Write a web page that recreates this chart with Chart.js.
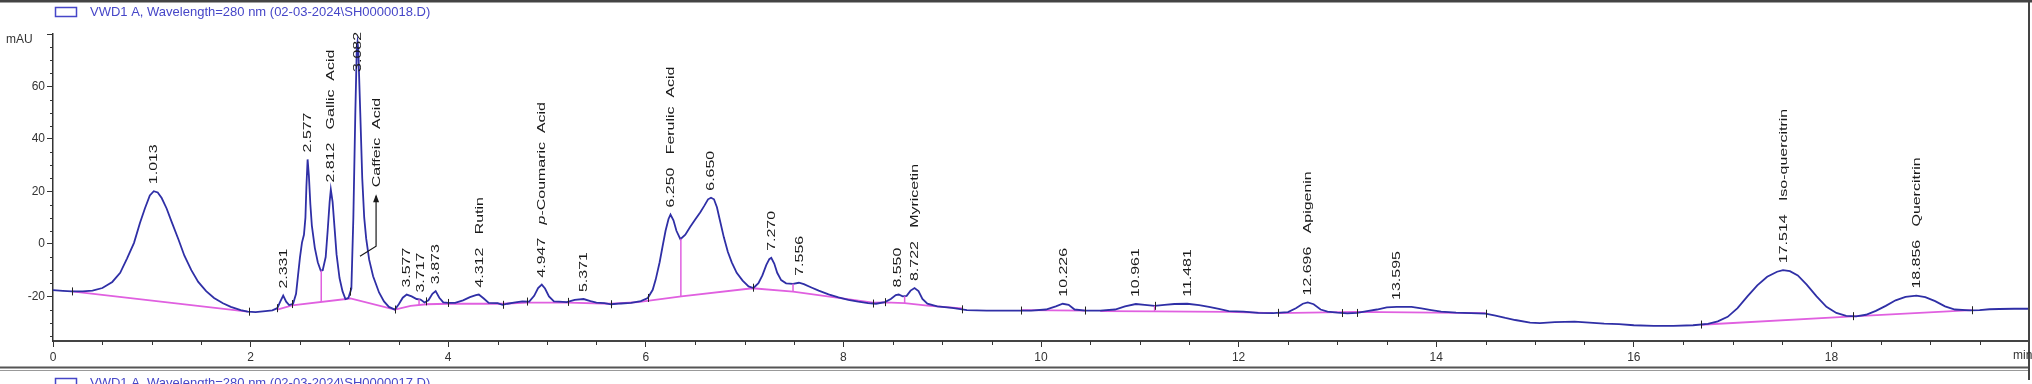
<!DOCTYPE html>
<html>
<head>
<meta charset="utf-8">
<script src="https://cdn.jsdelivr.net/npm/chart.js@4.4.1/dist/chart.umd.min.js"></script>
<style>
body { margin: 0; background: #fff; }
canvas { display: block; }
</style>
</head>
<body>
<canvas id="chromatogram" width="2032" height="384"></canvas>
<script>
// signal trace: retention time (min) / absorbance (mAU)
var times = [0.00, 0.10, 0.19, 0.30, 0.40, 0.50, 0.60, 0.68, 0.75, 0.82, 0.88, 0.93, 0.98, 1.02, 1.06, 1.10, 1.15, 1.20, 1.27, 1.33,
    1.40, 1.47, 1.55, 1.63, 1.72, 1.80, 1.90, 1.97, 2.05, 2.15, 2.22, 2.27, 2.30, 2.33, 2.36, 2.39, 2.43, 2.46, 2.48, 2.50,
    2.52, 2.54, 2.555, 2.565, 2.577, 2.59, 2.605, 2.62, 2.65, 2.68, 2.71, 2.73, 2.76, 2.78, 2.80, 2.812, 2.83, 2.85, 2.87, 2.90,
    2.93, 2.96, 2.99, 3.02, 3.04, 3.06, 3.075, 3.082, 3.09, 3.11, 3.13, 3.15, 3.17, 3.20, 3.24, 3.30, 3.35, 3.40, 3.46, 3.50,
    3.54, 3.58, 3.63, 3.68, 3.72, 3.76, 3.80, 3.84, 3.873, 3.91, 3.95, 4.00, 4.07, 4.15, 4.22, 4.28, 4.31, 4.36, 4.41, 4.50,
    4.55, 4.60, 4.68, 4.75, 4.82, 4.87, 4.91, 4.947, 4.98, 5.02, 5.07, 5.12, 5.20, 5.28, 5.37, 5.44, 5.50, 5.58, 5.65, 5.75,
    5.85, 5.95, 6.02, 6.07, 6.10, 6.14, 6.17, 6.20, 6.23, 6.25, 6.28, 6.31, 6.35, 6.40, 6.45, 6.50, 6.55, 6.59, 6.63, 6.66,
    6.69, 6.72, 6.75, 6.79, 6.83, 6.87, 6.92, 6.98, 7.04, 7.09, 7.14, 7.18, 7.22, 7.25, 7.27, 7.30, 7.33, 7.37, 7.42, 7.49,
    7.55, 7.60, 7.67, 7.75, 7.85, 7.95, 8.05, 8.15, 8.25, 8.33, 8.42, 8.48, 8.53, 8.56, 8.60, 8.64, 8.68, 8.72, 8.76, 8.80,
    8.85, 8.95, 9.10, 9.25, 9.45, 9.70, 9.90, 10.05, 10.15, 10.22, 10.28, 10.34, 10.45, 10.60, 10.75, 10.85, 10.96, 11.05, 11.15, 11.25,
    11.35, 11.48, 11.60, 11.70, 11.80, 11.90, 12.05, 12.20, 12.35, 12.50, 12.58, 12.65, 12.70, 12.76, 12.83, 12.90, 13.00, 13.10, 13.20, 13.30,
    13.40, 13.50, 13.60, 13.75, 13.85, 13.95, 14.05, 14.20, 14.35, 14.50, 14.60, 14.70, 14.80, 14.95, 15.05, 15.20, 15.40, 15.55, 15.70, 15.85,
    16.00, 16.20, 16.40, 16.60, 16.75, 16.85, 16.95, 17.05, 17.15, 17.25, 17.35, 17.45, 17.51, 17.58, 17.66, 17.75, 17.85, 17.95, 18.05, 18.15,
    18.25, 18.35, 18.45, 18.55, 18.65, 18.75, 18.86, 18.95, 19.05, 19.15, 19.25, 19.40, 19.50, 19.60, 19.70, 19.85, 20.00];
var absorbance = [-17.6, -17.9, -18.1, -18.1, -17.8, -16.8, -14.5, -11.0, -5.5, 0.4, 8.0, 13.5, 18.5, 20.1, 19.6, 17.5, 13.5, 8.5, 1.7, -4.5,
    -10.0, -14.5, -18.0, -20.6, -22.6, -24.0, -25.2, -25.8, -26.0, -25.6, -25.3, -24.5, -22.0, -19.7, -22.0, -23.3, -22.8, -19.0, -12.0, -5.0,
    0.5, 3.5, 10.0, 22.0, 32.2, 26.0, 15.0, 7.0, -1.5, -7.0, -10.2, -10.0, -5.0, 5.0, 16.0, 20.7, 16.0, 6.0, -4.0, -13.0,
    -18.0, -21.0, -20.6, -17.0, 10.0, 50.0, 75.0, 77.0, 74.0, 50.0, 25.0, 10.0, 2.0, -6.0, -12.3, -18.5, -21.9, -24.0, -25.0, -23.0,
    -20.5, -19.3, -20.0, -21.0, -21.2, -22.3, -21.5, -19.0, -18.0, -20.5, -22.3, -22.5, -22.5, -21.5, -20.3, -19.5, -19.3, -20.8, -22.5, -22.6,
    -23.2, -22.8, -22.3, -21.9, -22.0, -19.8, -16.8, -15.5, -17.0, -20.0, -21.9, -22.0, -22.2, -21.3, -21.0, -21.8, -22.4, -22.6, -23.0, -22.7,
    -22.5, -21.8, -20.6, -17.5, -13.6, -7.0, -0.9, 5.0, 9.5, 11.2, 9.0, 5.0, 1.8, 3.5, 6.5, 9.3, 12.0, 14.4, 17.0, 17.6,
    17.0, 14.0, 9.0, 2.5, -3.0, -7.0, -11.0, -14.0, -16.2, -16.8, -15.0, -12.0, -8.0, -5.8, -5.3, -7.5, -11.0, -13.8, -15.0, -15.2,
    -14.8, -15.3, -16.5, -17.8, -19.2, -20.4, -21.3, -22.0, -22.6, -22.8, -22.2, -21.0, -19.5, -19.3, -20.0, -19.8, -17.8, -16.8, -18.0, -21.0,
    -22.8, -23.8, -24.4, -25.2, -25.4, -25.4, -25.4, -25.0, -23.8, -22.8, -23.2, -25.0, -25.4, -25.4, -25.0, -23.8, -22.9, -23.2, -23.6, -23.2,
    -22.9, -22.8, -23.3, -24.0, -24.8, -25.6, -25.8, -26.3, -26.4, -26.0, -24.5, -22.8, -22.3, -23.0, -25.0, -25.8, -26.2, -26.5, -26.3, -25.6,
    -25.0, -24.2, -24.0, -24.0, -24.6, -25.2, -25.8, -26.2, -26.4, -26.6, -27.3, -28.2, -29.0, -30.0, -30.2, -29.8, -29.6, -30.0, -30.4, -30.6,
    -31.0, -31.2, -31.2, -31.0, -30.5, -29.5, -27.8, -24.5, -20.0, -15.8, -12.5, -10.6, -10.0, -10.4, -12.0, -15.5, -20.0, -24.0, -26.3, -27.4,
    -27.6, -27.0, -25.5, -23.6, -21.5, -20.2, -19.7, -20.3, -21.8, -23.8, -25.0, -25.3, -25.2, -24.9, -24.8, -24.7, -24.7];

// integration baseline (null = gap between segments)
var baseTimes = [0.19, 1.97, 2.10, 2.27, 2.42, 3.01, 3.46, 3.62, 3.78, 4.00, 4.55, 4.80, 5.21, 5.65, 5.92, 6.36, 7.08, 7.49, 8.30, 8.42,
    8.62, 8.85, 9.20, 9.50, 9.80, 10.45, 10.52, 10.60, 11.15, 11.90, 12.35, 12.38, 12.40, 13.20, 14.50, 15.50, 16.68, 18.22, 19.42];
var baseValues = [-18.1, -25.8, null, -25.0, -23.4, -20.8, -25.0, -23.6, -23.0, -22.8, -22.8, -22.4, -22.4, -22.8, -22.2, -20.0, -16.9, -18.2, -22.4, -22.3,
    -22.6, -23.5, -24.6, null, -25.2, -25.4, null, -25.6, -25.7, -25.9, -26.4, null, -26.4, -25.9, -26.4, null, -30.8, -27.6, -25.2];

// peak annotations
var peakTimes = [1.013, 2.331, 2.577, 2.812, 3.082, 3.577, 3.717, 3.873, 4.312, 4.947, 5.371, 6.250,
    6.650, 7.270, 7.556, 8.550, 8.722, 10.226, 10.961, 11.481, 12.696, 13.595, 17.514, 18.856];
var peakNames = ['', '', '', 'Gallic  Acid', '', '', '', '', 'Rutin', 'p-Coumaric  Acid', '', 'Ferulic  Acid',
    '', '', '', '', 'Myricetin', '', '', '', 'Apigenin', '', 'Iso-quercitrin', 'Quercitrin'];
var dropTimes = [2.715, 3.705, 6.355, 7.49, 8.62, 11.15];
var eventTimes = [0.19, 1.98, 2.27, 2.42, 3.01, 3.46, 3.78, 4.00, 4.55, 4.80, 5.21, 5.65, 6.02, 7.08,
    8.30, 8.42, 9.20, 9.80, 10.45, 11.15, 12.40, 13.05, 13.20, 14.50, 16.68, 18.22, 19.42];
var caffeicArrowT = [3.107, 3.27, 3.27];
var caffeicArrowV = [-4.7, -0.9, 18.2];
var caffeicLabel = 'Caffeic  Acid';

// axes
var xTickValues = [0, 2, 4, 6, 8, 10, 12, 14, 16, 18, 20];
var xTickLabels = ['0', '2', '4', '6', '8', '10', '12', '14', '16', '18', ''];
var xUnit = 'min';
var yTickValues = [-20, 0, 20, 40, 60, 80];
var yTickLabels = ['-20', '0', '20', '40', '60', ''];
var yUnit = 'mAU';

var legendText = 'VWD1 A, Wavelength=280 nm (02-03-2024\\SH0000018.D)';
var nextLegendText = 'VWD1 A, Wavelength=280 nm (02-03-2024\\SH0000017.D)';

var FONT = '"Liberation Sans", Arial, sans-serif';
var BLUE = '#2f2fa6';
var MAGENTA = '#e060e0';

function valueAt(ts, vs, t) {
    for (var i = 1; i < ts.length; i++) {
        if (vs[i] === null || vs[i - 1] === null) continue;
        if (t >= ts[i - 1] && t <= ts[i]) {
            var f = (t - ts[i - 1]) / (ts[i] - ts[i - 1]);
            return vs[i - 1] + f * (vs[i] - vs[i - 1]);
        }
    }
    return null;
}

function apexAt(t) {
    var best = valueAt(times, absorbance, t);
    for (var i = 0; i < times.length; i++) {
        if (Math.abs(times[i] - t) <= 0.035 && absorbance[i] > best) best = absorbance[i];
    }
    return best;
}

// rotated peak label, stretched along its length like the instrument print
var STRETCH = 1.45;
function labelParts(t, name) {
    var parts = [{ text: t.toFixed(3), italic: false }];
    if (name) {
        parts.push({ text: '   ', italic: false });
        if (name.indexOf('p-') === 0) {
            parts.push({ text: 'p', italic: true });
            parts.push({ text: name.substring(1), italic: false });
        } else {
            parts.push({ text: name, italic: false });
        }
    }
    return parts;
}
function partsWidth(ctx, parts) {
    var w = 0;
    parts.forEach(function (p) {
        ctx.font = (p.italic ? 'italic ' : '') + '11px ' + FONT;
        w += ctx.measureText(p.text).width;
    });
    return w * STRETCH;
}
function drawRotated(ctx, x, bottom, parts) {
    ctx.save();
    ctx.translate(x, bottom);
    ctx.rotate(-Math.PI / 2);
    ctx.scale(STRETCH, 1);
    ctx.fillStyle = '#1a1a1a';
    ctx.textAlign = 'left';
    ctx.textBaseline = 'middle';
    var pos = 0;
    parts.forEach(function (p) {
        ctx.font = (p.italic ? 'italic ' : '') + '11px ' + FONT;
        ctx.fillText(p.text, pos, 0.5);
        pos += ctx.measureText(p.text).width;
    });
    ctx.restore();
}

function drawLegend(ctx, y, text) {
    ctx.save();
    ctx.strokeStyle = '#4646c8';
    ctx.lineWidth = 1.5;
    ctx.strokeRect(55.5, y - 4.5, 21, 9);
    ctx.fillStyle = '#4646c8';
    ctx.font = '13px ' + FONT;
    ctx.textAlign = 'left';
    ctx.textBaseline = 'middle';
    ctx.fillText(text, 90, y);
    ctx.restore();
}

var extras = {
    id: 'extras',
    afterDraw: function (chart) {
        var ctx = chart.ctx, xs = chart.scales.x, ys = chart.scales.y, area = chart.chartArea;
        var W = chart.width;
        ctx.save();

        // frame
        ctx.fillStyle = '#444';
        ctx.fillRect(0, 0, W, 2.5);
        ctx.fillStyle = '#555';
        ctx.fillRect(0, 366.5, 2030, 2);
        ctx.fillStyle = '#999';
        ctx.fillRect(0, 370, 2030, 1);
        ctx.fillStyle = '#444';
        ctx.fillRect(2028, 0, 2, 380);

        drawLegend(ctx, 12, legendText);
        drawLegend(ctx, 383, nextLegendText);

        ctx.fillStyle = '#333';
        ctx.font = '12px ' + FONT;
        ctx.textAlign = 'left';
        ctx.textBaseline = 'middle';
        ctx.fillText(yUnit, 6, 40);
        ctx.textBaseline = 'top';
        ctx.fillText(xUnit, 2013, area.bottom + 9);

        // minor ticks
        ctx.strokeStyle = '#333';
        ctx.lineWidth = 1;
        ctx.beginPath();
        for (var m = 0; m <= 20; m += 0.5) {
            if (m % 2 === 0) continue;
            var px = Math.round(xs.getPixelForValue(m)) + 0.5;
            ctx.moveTo(px, area.bottom);
            ctx.lineTo(px, area.bottom + 4);
        }
        for (var v = -35; v <= 80; v += 5) {
            if (v % 20 === 0) continue;
            var py = Math.round(ys.getPixelForValue(v)) + 0.5;
            ctx.moveTo(area.left - 3, py);
            ctx.lineTo(area.left, py);
        }
        ctx.stroke();

        // drop lines between merged peaks
        ctx.strokeStyle = MAGENTA;
        ctx.lineWidth = 1.5;
        ctx.beginPath();
        dropTimes.forEach(function (t) {
            var b = valueAt(baseTimes, baseValues, t), c = valueAt(times, absorbance, t);
            if (b === null || c === null) return;
            var px = xs.getPixelForValue(t);
            ctx.moveTo(px, ys.getPixelForValue(b));
            ctx.lineTo(px, ys.getPixelForValue(c));
        });
        ctx.stroke();

        // integration event marks
        ctx.strokeStyle = '#222';
        ctx.lineWidth = 1;
        ctx.beginPath();
        eventTimes.forEach(function (t) {
            var c = valueAt(times, absorbance, t);
            var px = Math.round(xs.getPixelForValue(t)) + 0.5, py = ys.getPixelForValue(c);
            ctx.moveTo(px, py - 4);
            ctx.lineTo(px, py + 4);
        });
        ctx.stroke();

        // peak labels
        peakTimes.forEach(function (t, i) {
            var parts = labelParts(t, peakNames[i]);
            var len = partsWidth(ctx, parts);
            var bottom = ys.getPixelForValue(apexAt(t)) - 7;
            if (bottom - len < area.top - 2) bottom = area.top - 2 + len;
            drawRotated(ctx, xs.getPixelForValue(t), bottom, parts);
        });

        // Caffeic acid arrow and label
        ctx.strokeStyle = '#1a1a1a';
        ctx.fillStyle = '#1a1a1a';
        ctx.lineWidth = 1.2;
        ctx.beginPath();
        caffeicArrowT.forEach(function (t, i) {
            var px = xs.getPixelForValue(t), py = ys.getPixelForValue(caffeicArrowV[i]);
            if (i === 0) ctx.moveTo(px, py); else ctx.lineTo(px, py);
        });
        ctx.stroke();
        var tipX = xs.getPixelForValue(caffeicArrowT[2]), tipY = ys.getPixelForValue(caffeicArrowV[2]);
        ctx.beginPath();
        ctx.moveTo(tipX, tipY - 2);
        ctx.lineTo(tipX - 3, tipY + 6);
        ctx.lineTo(tipX + 3, tipY + 6);
        ctx.closePath();
        ctx.fill();
        drawRotated(ctx, tipX, tipY - 9, [{ text: caffeicLabel, italic: false }]);

        ctx.restore();
    }
};

var ctx1 = document.getElementById('chromatogram').getContext('2d');
var chart = new Chart(ctx1, {
    type: 'line',
    data: {
        datasets: [{
            label: 'VWD1 A 280 nm',
            data: times.map(function (t, i) { return { x: t, y: absorbance[i] }; }),
            borderColor: BLUE,
            borderWidth: 1.8,
            pointRadius: 0,
            tension: 0
        }, {
            label: 'Baseline',
            data: baseTimes.map(function (t, i) { return { x: t, y: baseValues[i] }; }),
            borderColor: MAGENTA,
            borderWidth: 1.8,
            pointRadius: 0,
            tension: 0,
            spanGaps: false
        }]
    },
    options: {
        responsive: false,
        animation: false,
        layout: { padding: { top: 34, right: 3, left: 0, bottom: 0 } },
        plugins: { legend: { display: false }, tooltip: { enabled: false } },
        scales: {
            x: {
                type: 'linear',
                min: 0,
                max: 20,
                afterBuildTicks: function (scale) {
                    scale.ticks = xTickValues.map(function (v) { return { value: v }; });
                },
                afterFit: function (scale) {
                    scale.height = 43;
                    scale.paddingLeft = 0;
                    scale.paddingRight = 0;
                },
                ticks: {
                    autoSkip: false,
                    maxRotation: 0,
                    padding: 3,
                    color: '#333',
                    font: { family: FONT, size: 12 },
                    callback: function (v) { return xTickLabels[xTickValues.indexOf(v)]; }
                },
                grid: { drawOnChartArea: false, drawTicks: true, tickLength: 6, color: '#333' },
                border: { display: true, color: '#444', width: 2 }
            },
            y: {
                type: 'linear',
                min: -37,
                max: 80,
                afterBuildTicks: function (scale) {
                    scale.ticks = yTickValues.map(function (v) { return { value: v }; });
                },
                afterFit: function (scale) {
                    scale.width = 53;
                    scale.paddingTop = 0;
                    scale.paddingBottom = 0;
                },
                ticks: {
                    autoSkip: false,
                    padding: 2,
                    color: '#333',
                    font: { family: FONT, size: 12 },
                    callback: function (v) { return yTickLabels[yTickValues.indexOf(v)]; }
                },
                grid: { drawOnChartArea: false, drawTicks: true, tickLength: 6, color: '#333' },
                border: { display: true, color: '#333', width: 1.5 }
            }
        }
    },
    plugins: [extras]
});
</script>
</body>
</html>
